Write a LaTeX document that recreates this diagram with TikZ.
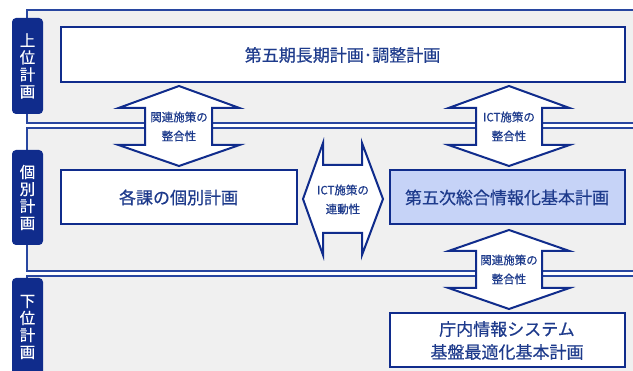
\documentclass[tikz,border=0pt]{standalone}
\usepackage{fontspec}
\setmainfont{Noto Sans CJK JP}[FakeBold=0.5]
\definecolor{navy}{RGB}{16,44,140}
\definecolor{txtblue}{RGB}{30,59,140}
\definecolor{bandgray}{RGB}{240,240,240}
\definecolor{bandline}{RGB}{40,70,160}
\definecolor{lightblue}{RGB}{198,211,247}
\tikzset{
  bandbox/.style={fill=bandgray},
  bandedge/.style={draw=bandline, line width=1.1pt},
  tab/.style={fill=navy, rounded corners=4pt, minimum width=31pt, inner sep=0pt, text=white,
    align=center, font=\fontsize{15.5}{17}\selectfont},
  planbox/.style={draw=navy, line width=2pt, fill=white, inner sep=0pt, text=txtblue,
    align=center, font=\fontsize{17}{23}\selectfont},
  dblarrow/.style={draw=navy, line width=2pt, fill=white, line join=miter},
  arrowtext/.style={text=txtblue, align=center, inner sep=0pt, font=\fontsize{11.5}{19}\selectfont},
}
\begin{document}
\begin{tikzpicture}[x=1pt,y=-1pt]
\useasboundingbox (0,0) rectangle (633,371);
\clip (0,0) rectangle (633,371);
\fill[white] (0,0) rectangle (633,371);
% bands
\fill[bandbox] (27,10) rectangle (640,123);
\draw[bandedge] (640,10) -- (27,10) -- (27,123) -- (640,123);
\fill[bandbox] (27,128) rectangle (640,271);
\draw[bandedge] (640,128) -- (27,128) -- (27,271) -- (640,271);
\fill[bandbox] (27,276) rectangle (640,390);
\draw[bandedge] (640,276) -- (27,276) -- (27,390);
% tabs
\node[tab, minimum height=96pt] (t1) at (27.5,66) {上\\位\\計\\画};
\node[tab, minimum height=95pt] (t2) at (27.5,197.5) {個\\別\\計\\画};
\node[tab, minimum height=104pt] (t3) at (27.5,330) {};
\node[text=white, align=center, inner sep=0pt, font=\fontsize{15.5}{17}\selectfont] (t3txt) at (27.5,327) {下\\位\\計\\画};
% boxes
\node[planbox, minimum width=564pt, minimum height=55pt] (b1) at (342.5,55) {第五期長期計画･調整計画};
\node[planbox, minimum width=236pt, minimum height=54pt] (b2) at (178.5,197.5) {各課の個別計画};
\node[planbox, fill=lightblue, minimum width=235pt, minimum height=54pt] (b3) at (507,197.5) {第五次総合情報化基本計画};
\node[planbox, minimum width=235pt, minimum height=54pt] (b4) at (507,340.5) {庁内情報システム\\基盤最適化基本計画};
% arrows
\draw[dblarrow] (179,86) -- (239.5,108) -- (212,108) -- (212,145) -- (239.5,145) -- (179,166)
  -- (118.5,145) -- (145,145) -- (145,108) -- (118.5,108) -- cycle;
\node[arrowtext] (a1) at (179,126.5) {関連施策の\\整合性};
\draw[dblarrow] (509,86) -- (569.5,108) -- (542,108) -- (542,145) -- (569.5,145) -- (509,166)
  -- (448.5,145) -- (476,145) -- (476,108) -- (448.5,108) -- cycle;
\node[arrowtext] (a2) at (509,126.5) {ICT施策の\\整合性};
\draw[dblarrow] (509,230) -- (569.5,251) -- (542,251) -- (542,288) -- (569.5,288) -- (509,309)
  -- (448.5,288) -- (476,288) -- (476,251) -- (448.5,251) -- cycle;
\node[arrowtext] (a3) at (509,269.5) {関連施策の\\整合性};
\draw[dblarrow] (303,199) -- (323,143) -- (323,165) -- (362,165) -- (362,143) -- (383,199)
  -- (362,255) -- (362,233) -- (323,233) -- (323,255) -- cycle;
\node[arrowtext] (a4) at (343,199.5) {ICT施策の\\連動性};
\end{tikzpicture}
\end{document}
